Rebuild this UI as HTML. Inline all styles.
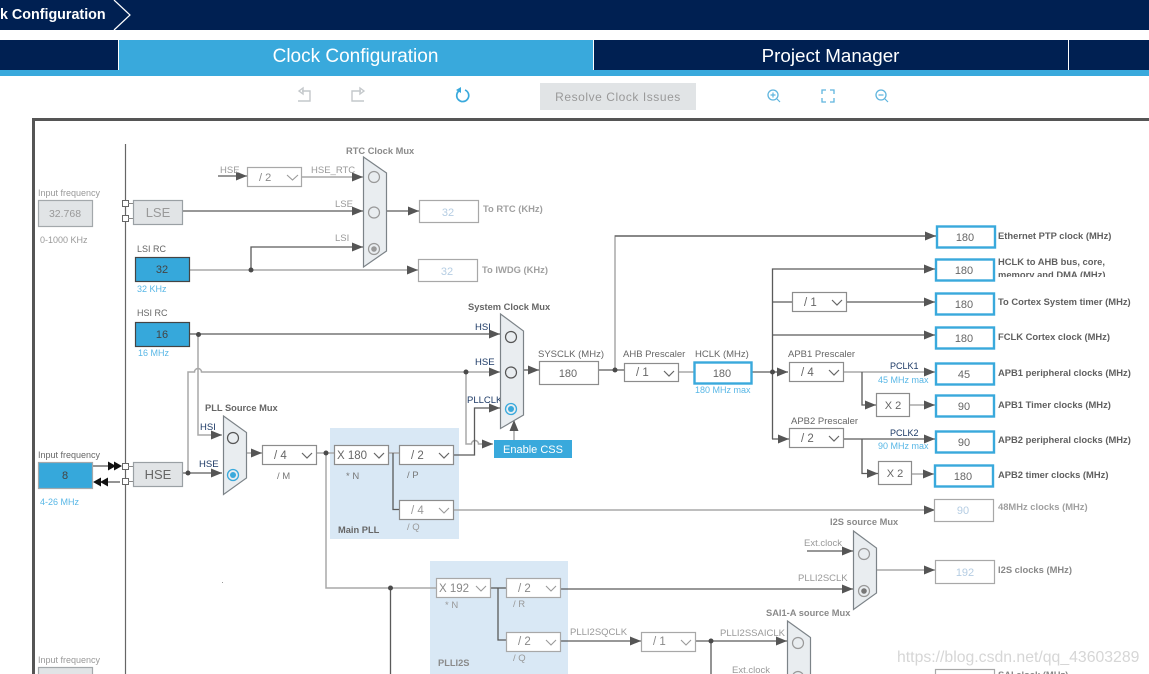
<!DOCTYPE html>
<html><head><meta charset="utf-8"><style>
html,body{margin:0;padding:0;background:#fff;width:1149px;height:674px;overflow:hidden}
svg{display:block;font-family:"Liberation Sans",sans-serif}
.l{fill:none;stroke:#5a5a5a;stroke-width:1.3}
.g{fill:none;stroke:#a9a9a9;stroke-width:1.5}
.a{marker-end:url(#ar)}
.b{fill:#fff;stroke:#8c8c8c;stroke-width:1.2}
.c{fill:#fff;stroke:#39a9dc;stroke-width:2.4}
.f{fill:#fff;stroke:#a8a8a8;stroke-width:1.2}
.m{fill:#e9edf0;stroke:#7c8388;stroke-width:1.2}
.r{fill:none;stroke:#666;stroke-width:1.2}
.v{fill:none;stroke:#9a9a9a;stroke-width:1.1}
text{fill:#666;font-size:9.5px}
.h{font-weight:bold;fill:#666;font-size:9.3px}
.t{font-weight:bold;fill:#5f5f5f;font-size:9.4px}
.s{fill:#777;font-size:9.5px}
.n{fill:#1d3a66;font-size:9.5px}
.u{fill:#58b7e6;font-size:9px}
.q{fill:#666;font-size:11px;text-anchor:middle}
.k{fill:#b5cde3;font-size:11px;text-anchor:middle}
.x{fill:#666;font-size:11.5px}
.y{fill:#999;font-size:9.5px}
</style></head><body>
<svg width="1149" height="674" viewBox="0 0 1149 674">
<defs>
<marker id="ar" markerUnits="userSpaceOnUse" markerWidth="12" markerHeight="9" refX="11" refY="4.5" orient="auto"><path d="M0 0L11 4.500L0 9z" fill="#555"/></marker>
<clipPath id="cl"><rect x="990" y="250" width="159" height="27"/></clipPath>
</defs>

<!-- header -->
<rect width="1149" height="30" fill="#002052"/>
<path d="M114 0L130 15L114 30" fill="none" stroke="#fff" stroke-width="1.2"/>
<text x="0" y="19" style="fill:#fff;font-size:14.300px;font-weight:bold">k Configuration</text>
<rect y="40" width="1149" height="30" fill="#002052"/>
<rect y="70" width="1149" height="6" fill="#39a9dc"/>
<rect x="119" y="40" width="474" height="30" fill="#39a9dc"/>
<path d="M118.500 40V70M593.500 40V70M1068.500 40V70" stroke="#fff" stroke-width="1"/>
<text x="355.500" y="62" text-anchor="middle" style="fill:#fff;font-size:19px">Clock Configuration</text>
<text x="830.500" y="62" text-anchor="middle" style="fill:#fff;font-size:18.800px">Project Manager</text>

<!-- toolbar -->
<path d="M299 91L303 88V94zM302 91H310V101H298" fill="none" stroke="#c4c8cb" stroke-width="1.400"/>
<path d="M364 91L360 88V94zM361 91H352V101H364" fill="none" stroke="#c4c8cb" stroke-width="1.400"/>
<path d="M459.500 90.500A6 6 0 1 0 465 90" fill="none" stroke="#39a9dc" stroke-width="1.700"/>
<path d="M456 90L461 87V93z" fill="#39a9dc"/>
<rect x="540" y="83" width="156" height="27" fill="#e1e4e6"/>
<text x="618" y="101" text-anchor="middle" style="fill:#999;font-size:12px;letter-spacing:.55px">Resolve Clock Issues</text>
<circle cx="773" cy="95" r="5" fill="none" stroke="#5fb5de" stroke-width="1.300"/><path d="M777 99L780 102M770.500 95H775.500M773 92.500V97.500" stroke="#5fb5de" stroke-width="1.200"/>
<path d="M822 94V90H826M830 90H834V94M834 98V102H830M826 102H822V98" fill="none" stroke="#5fb5de" stroke-width="1.300"/>
<circle cx="881" cy="95" r="5" fill="none" stroke="#5fb5de" stroke-width="1.300"/><path d="M885 99L888 102M878.500 95H883.500" stroke="#5fb5de" stroke-width="1.200"/>

<!-- frame -->
<path d="M33.500 674V119.500H1149" fill="none" stroke="#555" stroke-width="3"/>
<path d="M125.500 144V674" stroke="#666" stroke-width="1.200"/>

<!-- PLL backgrounds -->
<rect x="330" y="428" width="129" height="111" fill="#d9e8f5"/>
<rect x="430" y="561" width="138" height="113" fill="#d9e8f5"/>

<!-- wires -->
<path class="l a" d="M218 176H247"/>
<path class="g a" d="M302 177H363"/>
<path class="l a" d="M183 211H363"/>
<path class="l a" d="M251 270V247H363"/>
<path class="g a" d="M190 270H418"/>
<path class="l a" d="M386 211H419"/>
<path class="l a" d="M190 334H500"/>
<path class="g a" d="M198 334V435H222"/>
<path class="g a" d="M188 473V372H194.500A3.500 3.500 0 0 1 201.500 372H500"/>
<path class="l a" d="M183 473H222"/>
<path class="l" d="M93 466H108"/><path class="l" d="M108 482H120"/>
<path d="M108 461.500L116 466L108 470.500zM114 461.500L122 466L114 470.500zM100 482L108 477.500V486.500zM93 482L101 477.500V486.500z" fill="#111"/>
<path class="g a" d="M247 453H262"/>
<path class="g" d="M316 453H334"/>
<path class="g" d="M388 453H399"/>
<path class="l" d="M393 453V509.500H399"/>
<path class="g a" d="M453 510H935"/>
<path class="g" d="M326 453V588H436"/>
<path class="l" d="M390.500 588V674"/>
<path class="g a" d="M466 372V444H471.500A3.500 3.500 0 0 1 478.500 444H493"/>
<path class="l a" d="M453 455H474.500V408H500"/>
<path class="g a" d="M514 440V420"/>
<path class="l a" d="M523 370H539"/>
<path class="l" d="M598 370H624"/>
<path class="g a" d="M615 370V236H936"/>
<path class="l" d="M615 236H936"/>
<path class="g" d="M679 372H694"/>
<path class="l" d="M752 372H772"/>
<path class="l a" d="M772 372H788"/>
<path class="l a" d="M772.500 439V269H935"/>
<path class="l" d="M772 302H792"/>
<path class="l a" d="M847 302H935"/>
<path class="l a" d="M772 335H935"/>
<path class="g a" d="M843 372H935"/>
<path class="l a" d="M862 372V405H876"/>
<path class="g a" d="M910 405H935"/>
<path class="l a" d="M772 439H789"/>
<path class="l a" d="M843 439H935"/>
<path class="l a" d="M862 439V473.500H878"/>
<path class="g a" d="M912 474H934"/>
<path class="l" d="M491 588H506"/>
<path class="l" d="M498 588V640H506"/>
<path class="l a" d="M560 589H853"/>
<path class="l a" d="M807 551H853"/>
<path class="g a" d="M877 570H935"/>
<path class="l a" d="M560 641H641"/>
<path class="l a" d="M696 641H787"/>
<path class="l" d="M711 641V674"/>

<!-- dots -->
<g fill="#4a4a4a">
<circle cx="251" cy="270" r="2.500"/><circle cx="198.500" cy="334.500" r="2.500"/><circle cx="188" cy="473" r="2.500"/>
<circle cx="326" cy="453" r="2.500"/><circle cx="390.500" cy="588" r="2.500"/><circle cx="466" cy="372" r="2.500"/>
<circle cx="615" cy="370" r="2.500"/><circle cx="772.500" cy="372" r="2.500"/><circle cx="711" cy="641" r="2.500"/>
</g>

<!-- sources -->
<text class="y" x="38" y="196" style="font-size:9px">Input frequency</text>
<rect x="38.500" y="200.500" width="54" height="26" fill="#e1e4e6" stroke="#a3a8ab" stroke-width="1.200"/>
<text x="65" y="217" text-anchor="middle" style="fill:#999;font-size:10.500px">32.768</text>
<text class="y" x="40" y="243" style="font-size:9px">0-1000 KHz</text>
<rect x="122.500" y="200.500" width="6" height="6" fill="#fff" stroke="#666"/>
<rect x="122.500" y="215.500" width="6" height="6" fill="#fff" stroke="#666"/>
<path d="M128 203.500H133M128 218.500H133" stroke="#888"/>
<rect x="133.500" y="200.500" width="49" height="24" fill="#e1e4e6" stroke="#9aa0a4" stroke-width="1.200"/>
<text x="158" y="217" text-anchor="middle" style="fill:#999;font-size:13px">LSE</text>
<text x="137" y="252" style="font-size:9px">LSI RC</text>
<rect x="135.500" y="257.500" width="54" height="24" fill="#36a8db" stroke="#444" stroke-width="1.200"/>
<text x="162" y="273" text-anchor="middle" style="fill:#444;font-size:11px">32</text>
<text class="u" x="137" y="292">32 KHz</text>
<text x="137" y="316" style="font-size:9px">HSI RC</text>
<rect x="135.500" y="322.500" width="54" height="24" fill="#36a8db" stroke="#444" stroke-width="1.200"/>
<text x="162" y="338" text-anchor="middle" style="fill:#444;font-size:11px">16</text>
<text class="u" x="138" y="356">16 MHz</text>
<text x="38" y="458" style="font-size:9px">Input frequency</text>
<rect x="38.500" y="462.500" width="54" height="26" fill="#36a8db" stroke="#a3a8ab" stroke-width="1.200"/>
<text x="65" y="479" text-anchor="middle" style="fill:#444;font-size:11px">8</text>
<text class="u" x="40" y="505">4-26 MHz</text>
<rect x="122.500" y="463.500" width="6" height="6" fill="#fff" stroke="#666"/>
<rect x="122.500" y="478.500" width="6" height="6" fill="#fff" stroke="#666"/>
<path d="M128 466.500H133M128 481.500H133" stroke="#888"/>
<rect x="133.500" y="462.500" width="49" height="24" fill="#e1e4e6" stroke="#9aa0a4" stroke-width="1.200"/>
<text x="158" y="479" text-anchor="middle" style="fill:#666;font-size:13px">HSE</text>
<text class="y" x="38" y="663" style="font-size:9px">Input frequency</text>
<rect x="38.500" y="667.500" width="54" height="12" fill="#e1e4e6" stroke="#a3a8ab" stroke-width="1.200"/>

<!-- RTC -->
<text class="y" x="220" y="173">HSE</text>
<rect class="f" x="247.500" y="167.500" width="54" height="19"/>
<text x="259" y="181" style="fill:#888;font-size:11px">/ 2</text><path class="v" d="M287 175L292.500 180L298 175"/>
<text class="y" x="311" y="173">HSE_RTC</text>
<text class="y" x="335" y="207">LSE</text>
<text class="y" x="335" y="241">LSI</text>
<text class="h" x="346" y="154" style="fill:#8a8a8a">RTC Clock Mux</text>
<path class="m" d="M363.500 157L386.500 173V251L363.500 267z"/>
<circle cx="374" cy="177" r="5.500" fill="none" stroke="#999" stroke-width="1.200"/>
<circle cx="374" cy="212.500" r="5.500" fill="none" stroke="#999" stroke-width="1.200"/>
<circle cx="374" cy="249" r="5.500" fill="none" stroke="#999" stroke-width="1.200"/><circle cx="374" cy="249" r="2.800" fill="#999"/>
<rect class="f" x="419.500" y="200.500" width="59" height="22"/>
<text class="k" x="448" y="216">32</text>
<text class="t" x="483" y="212" style="fill:#a0a0a0">To RTC (KHz)</text>
<rect class="f" x="418.500" y="259.500" width="59" height="22"/>
<text class="k" x="447" y="275">32</text>
<text class="t" x="482" y="273" style="fill:#a0a0a0">To IWDG (KHz)</text>

<!-- PLL source mux -->
<text class="h" x="205" y="411">PLL Source Mux</text>
<text class="n" x="200" y="430">HSI</text>
<text class="n" x="199" y="467">HSE</text>
<path class="m" d="M223.500 416L246.500 432.500V478L223.500 494.500z"/>
<circle cx="233" cy="438" r="5.500" fill="none" stroke="#555" stroke-width="1.200"/>
<circle cx="233" cy="475" r="5.500" fill="none" stroke="#39a9dc" stroke-width="1.300"/><circle cx="233" cy="475" r="3" fill="#39a9dc"/>
<rect class="b" x="262.500" y="445.500" width="54" height="19"/>
<text class="x" x="274" y="459">/ 4</text><path class="r" d="M302 453L307 458L312 453"/>
<text class="s" x="277" y="479">/ M</text>

<!-- Main PLL -->
<rect class="b" x="334.500" y="445.500" width="54" height="19"/>
<text class="x" x="337" y="459">X 180</text><path class="r" d="M374 453L379 458L384 453"/>
<text class="s" x="346" y="479">* N</text>
<rect class="b" x="399.500" y="445.500" width="54" height="19"/>
<text class="x" x="411" y="459">/ 2</text><path class="r" d="M439 453L444 458L449 453"/>
<text class="s" x="407" y="478">/ P</text>
<rect class="b" x="399.500" y="500.500" width="54" height="19"/>
<text x="411" y="514" style="fill:#999;font-size:11.500px">/ 4</text><path class="v" d="M439 508L444 513L449 508"/>
<text class="y" x="407" y="530">/ Q</text>
<text class="h" x="338" y="533">Main PLL</text>

<!-- system mux -->
<text class="h" x="468" y="310">System Clock Mux</text>
<text class="n" x="475" y="330">HSI</text>
<text class="n" x="475" y="365">HSE</text>
<text class="n" x="467" y="403">PLLCLK</text>
<path class="m" d="M500.500 314L523.500 331V415L500.500 428.500z"/>
<circle cx="511" cy="337" r="5.500" fill="none" stroke="#555" stroke-width="1.200"/>
<circle cx="511" cy="372.500" r="5.500" fill="none" stroke="#555" stroke-width="1.200"/>
<circle cx="511" cy="409" r="5.500" fill="none" stroke="#39a9dc" stroke-width="1.300"/><circle cx="511" cy="409" r="3" fill="#39a9dc"/>
<rect x="494" y="440" width="78" height="18" fill="#39a9dc"/>
<text x="533" y="453" text-anchor="middle" style="fill:#fff;font-size:11px">Enable CSS</text>

<!-- SYSCLK / AHB / HCLK -->
<text x="538" y="357" style="font-size:9.500px">SYSCLK (MHz)</text>
<rect class="b" x="539.500" y="361.500" width="59" height="23"/>
<text class="q" x="568" y="377">180</text>
<text x="623" y="357" style="font-size:9.500px">AHB Prescaler</text>
<rect class="b" x="624.500" y="363.500" width="54" height="18"/>
<text class="x" x="636" y="376">/ 1</text><path class="r" d="M664 371L669 376L674 371"/>
<text x="695" y="357" style="font-size:9.500px">HCLK (MHz)</text>
<rect class="c" x="694.500" y="362.500" width="57" height="21"/>
<text class="q" x="722" y="377">180</text>
<text class="u" x="695" y="393">180 MHz max</text>

<!-- prescalers -->
<rect class="b" x="792.500" y="292.500" width="54" height="19"/>
<text class="x" x="804" y="306">/ 1</text><path class="r" d="M832 300L837 305L842 300"/>
<text x="788" y="357" style="font-size:9.500px">APB1 Prescaler</text>
<rect class="b" x="789.500" y="362.500" width="54" height="19"/>
<text class="x" x="801" y="376">/ 4</text><path class="r" d="M829 370L834 375L839 370"/>
<text x="791" y="424" style="font-size:9.500px">APB2 Prescaler</text>
<rect class="b" x="789.500" y="428.500" width="54" height="19"/>
<text class="x" x="801" y="442">/ 2</text><path class="r" d="M829 436L834 441L839 436"/>
<rect class="b" x="876.500" y="393.500" width="33" height="23"/>
<text class="q" x="893" y="409">X 2</text>
<rect class="b" x="878.500" y="461.500" width="33" height="23"/>
<text class="q" x="895" y="477">X 2</text>
<text class="n" x="890" y="369" style="font-size:9px">PCLK1</text>
<text class="u" x="878" y="383">45 MHz max</text>
<text class="n" x="890" y="436" style="font-size:9px">PCLK2</text>
<text class="u" x="878" y="449">90 MHz max</text>

<!-- outputs -->
<rect class="c" x="937" y="226.500" width="58" height="21"/><text class="q" x="965" y="241">180</text>
<text class="t" x="998" y="239">Ethernet PTP clock (MHz)</text>
<rect class="c" x="936" y="259.500" width="58" height="21"/><text class="q" x="964" y="274">180</text>
<text class="t" x="998" y="265">HCLK to AHB bus, core,</text>
<text class="t" x="998" y="278" clip-path="url(#cl)">memory and DMA (MHz)</text>
<rect class="c" x="936" y="293.500" width="58" height="21"/><text class="q" x="964" y="308">180</text>
<text class="t" x="998" y="305">To Cortex System timer (MHz)</text>
<rect class="c" x="936" y="327.500" width="58" height="21"/><text class="q" x="964" y="342">180</text>
<text class="t" x="998" y="340">FCLK Cortex clock (MHz)</text>
<rect class="c" x="936" y="363.500" width="58" height="21"/><text class="q" x="964" y="378">45</text>
<text class="t" x="998" y="376">APB1 peripheral clocks (MHz)</text>
<rect class="c" x="936" y="395.500" width="58" height="21"/><text class="q" x="964" y="410">90</text>
<text class="t" x="998" y="408">APB1 Timer clocks (MHz)</text>
<rect class="c" x="936" y="431.500" width="58" height="21"/><text class="q" x="964" y="446">90</text>
<text class="t" x="998" y="443">APB2 peripheral clocks (MHz)</text>
<rect class="c" x="935" y="465.500" width="58" height="21"/><text class="q" x="963" y="480">180</text>
<text class="t" x="998" y="478">APB2 timer clocks (MHz)</text>
<rect class="f" x="934.500" y="499.500" width="59" height="22"/><text class="k" x="963" y="514">90</text>
<text class="t" x="998" y="510" style="fill:#a0a0a0">48MHz clocks (MHz)</text>

<!-- PLLI2S -->
<rect class="f" x="436.500" y="578.500" width="54" height="19"/>
<text x="439" y="592" style="fill:#888;font-size:11.500px">X 192</text><path class="v" d="M476 586L481 591L486 586"/>
<text class="y" x="445" y="608">* N</text>
<rect class="f" x="506.500" y="578.500" width="54" height="19"/>
<text x="518" y="592" style="fill:#888;font-size:11.500px">/ 2</text><path class="v" d="M546 586L551 591L556 586"/>
<text class="y" x="513" y="607">/ R</text>
<rect class="f" x="506.500" y="632.500" width="54" height="19"/>
<text x="518" y="645" style="fill:#888;font-size:11.500px">/ 2</text><path class="v" d="M546 640L551 645L556 640"/>
<text class="y" x="513" y="661">/ Q</text>
<text class="h" x="438" y="666" style="fill:#8a8a8a">PLLI2S</text>
<text class="y" x="570" y="635">PLLI2SQCLK</text>
<rect class="f" x="641.500" y="632.500" width="54" height="19"/>
<text x="653" y="645" style="fill:#888;font-size:11.500px">/ 1</text><path class="v" d="M681 640L686 645L691 640"/>
<text class="y" x="720" y="636">PLLI2SSAICLK</text>

<!-- I2S mux -->
<text class="h" x="830" y="525" style="fill:#8a8a8a">I2S source Mux</text>
<text class="y" x="804" y="546">Ext.clock</text>
<text class="y" x="798" y="581">PLLI2SCLK</text>
<path class="m" d="M853.500 531L876.500 548V593L853.500 609.500z"/>
<circle cx="864" cy="554" r="5.500" fill="none" stroke="#999" stroke-width="1.200"/>
<circle cx="864" cy="591" r="5.500" fill="none" stroke="#999" stroke-width="1.200"/><circle cx="864" cy="591" r="2.800" fill="#777"/>
<rect class="f" x="935.500" y="560.500" width="59" height="23"/><text class="k" x="965" y="576">192</text>
<text class="t" x="998" y="573" style="fill:#888">I2S clocks (MHz)</text>

<!-- SAI mux -->
<text class="h" x="766" y="616" style="fill:#8a8a8a">SAI1-A source Mux</text>
<path class="m" d="M787.500 621L810.500 637.500V690H787.500z"/>
<circle cx="798" cy="643" r="5.500" fill="none" stroke="#999" stroke-width="1.200"/>
<circle cx="798" cy="677" r="5.500" fill="none" stroke="#999" stroke-width="1.200"/>
<text class="y" x="732" y="673">Ext.clock</text>
<rect class="f" x="935.500" y="669.500" width="59" height="20"/>
<text class="t" x="998" y="678" style="fill:#888">SAI clock (MHz)</text>

<text x="897" y="662" style="fill:#cfcfcf;font-size:15.800px;opacity:.85">https://blog.csdn.net/qq_43603289</text>
<rect x="222" y="582" width="1" height="1" fill="#999"/>
</svg>
</body></html>
